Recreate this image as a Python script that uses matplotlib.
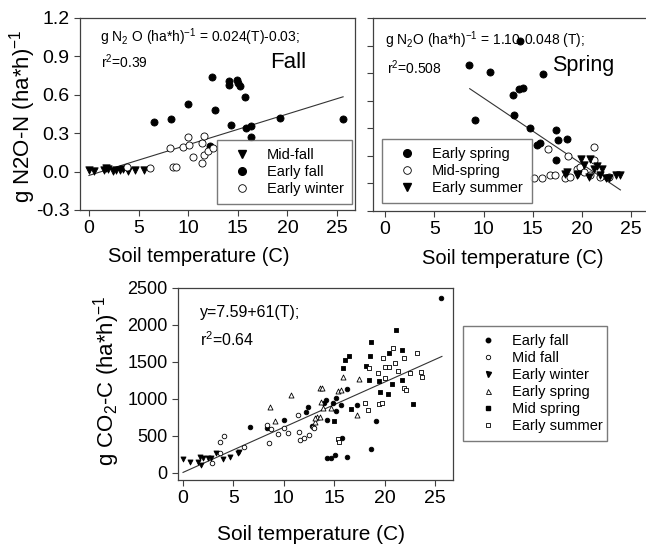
import numpy as np
import matplotlib
matplotlib.use("Agg")
import matplotlib.pyplot as plt

plt.rcParams['font.family'] = ['Liberation Sans', 'DejaVu Sans']
plt.rcParams['mathtext.default'] = 'regular'

# Fall N2O
fall_mid_T = [0.0, 0.5, 1.5, 1.7, 1.95, 2.45, 2.7, 3.1, 3.4, 3.95, 4.6, 5.55]
fall_mid_v = [0.01, 0.005, 0.015, 0.025, 0.02, 0.005, 0.01, 0.015, 0.02, 0.005, 0.01, 0.01]
fall_early_T = [6.6, 8.3, 9.95, 12.4, 12.7, 14.1, 14.1, 14.9, 15.05, 15.2, 15.7, 14.3,
                15.8, 16.3, 16.3, 12.2, 19.25, 25.6]
fall_early_v = [0.388, 0.414, 0.531, 0.74, 0.484, 0.674, 0.711, 0.716, 0.69, 0.672, 0.586, 0.365,
                0.341, 0.357, 0.273, 0.198, 0.422, 0.41]
winter_early_T = [3.8, 6.15, 8.2, 8.5, 8.75, 9.45, 9.95, 10.08, 10.45, 11.4, 11.6, 11.4, 11.6, 12.0, 12.5]
winter_early_v = [0.039, 0.029, 0.185, 0.034, 0.036, 0.195, 0.268, 0.206, 0.112, 0.221, 0.279,
                  0.068, 0.133, 0.159, 0.185]

# Spring N2O
spring_early_T = [8.54, 9.1, 10.7, 13.7, 13.0, 13.6, 14.05, 13.1, 14.7, 15.4, 15.7, 16.0,
                  17.35, 17.55, 18.5, 17.4]
spring_early_v = [0.858, 0.458, 0.81, 1.03, 0.64, 0.684, 0.689, 0.495, 0.402, 0.281, 0.291, 0.793,
                  0.39, 0.315, 0.325, 0.167]
spring_mid_T = [15.1, 15.9, 16.5, 16.8, 17.3, 18.3, 18.6, 18.8, 19.5, 19.8, 20.2, 20.8, 21.2, 21.2, 21.8, 22.7]
spring_mid_v = [0.039, 0.041, 0.252, 0.058, 0.063, 0.041, 0.199, 0.046, 0.107, 0.119, 0.082, 0.058,
                0.264, 0.167, 0.046, 0.046]
summer_early_T = [18.3, 18.5, 19.5, 19.6, 19.9, 20.2, 20.7, 20.8, 21.2, 21.5, 21.8, 22.0, 22.4, 22.7, 23.5, 23.9]
summer_early_v = [0.07, 0.082, 0.058, 0.065, 0.179, 0.131, 0.046, 0.179, 0.107, 0.126, 0.058, 0.107,
                  0.041, 0.039, 0.058, 0.063]

# CO2
co2_efall_T = [6.6, 8.3, 10.0, 12.2, 12.4, 12.8, 25.6, 16.3, 15.2, 14.2, 14.0, 14.9, 15.7, 15.2,
               17.3, 14.3, 19.2, 15.8, 18.65, 14.3, 14.65, 15.1, 16.3]
co2_efall_v = [626, 604, 721, 829, 887, 635, 2361, 1131, 1018, 986, 950, 941, 919, 838,
               919, 712, 703, 469, 328, 207, 198, 243, 220]
co2_mfall_T = [2.85, 3.7, 3.7, 4.1, 6.1, 8.3, 8.5, 8.7, 9.45, 10.0, 10.45, 11.45, 11.5, 11.6,
               12.0, 12.5, 12.9, 13.0]
co2_mfall_v = [140, 275, 423, 500, 356, 649, 410, 595, 523, 613, 545, 784, 550, 446, 477, 514, 626, 604]
co2_ewinter_T = [0.03, 0.7, 1.45, 1.8, 1.7, 2.0, 2.5, 2.8, 3.3, 4.0, 4.65, 5.5, 5.6]
co2_ewinter_v = [189, 153, 153, 108, 220, 207, 198, 198, 266, 185, 220, 266, 290]
co2_espring_T = [8.6, 9.1, 10.7, 13.1, 13.3, 13.6, 13.75, 15.9, 17.5, 15.4, 15.7, 13.65, 13.9,
                 14.65, 17.3, 13.1, 13.6]
co2_espring_v = [896, 703, 1054, 693, 761, 1144, 1153, 1302, 1266, 1108, 1126, 955, 883,
                 874, 784, 748, 761]
co2_mspring_T = [21.1, 18.7, 16.5, 16.1, 15.9, 18.55, 18.2, 20.4, 21.7, 18.45, 19.5, 20.7, 21.7,
                 19.6, 20.3, 16.7, 22.85, 15.0]
co2_mspring_v = [1932, 1775, 1585, 1532, 1423, 1581, 1450, 1626, 1658, 1257, 1243, 1198, 1257,
                 1099, 1072, 865, 928, 703]
co2_esummer_T = [20.8, 19.9, 21.0, 21.9, 23.2, 18.5, 20.0, 20.4, 21.3, 19.4, 20.0, 22.5, 23.6,
                 23.7, 21.9, 22.1, 18.05, 18.4, 19.5, 19.8, 15.4, 15.5]
co2_esummer_v = [1694, 1550, 1491, 1559, 1622, 1415, 1437, 1437, 1378, 1347, 1288, 1347, 1360,
                 1302, 1153, 1117, 941, 851, 928, 950, 459, 423]

# regression fits (intercept, slope, T range)
fall_fit = (-0.03, 0.024, [0.0, 25.6])
spring_fit = (1.10, -0.048, [8.6, 23.9])
co2_fit = (7.59, 61.0, [0.0, 25.7])

W, H = 646, 545
fig = plt.figure(figsize=(W / 100, H / 100), dpi=100)


def axes_px(left, top, right, bottom):
    return fig.add_axes([left / W, 1 - bottom / H, (right - left) / W, (bottom - top) / H])


def pts(ax, x, y, marker, filled, s):
    ax.scatter(x, y, marker=marker, s=s, facecolors='black' if filled else 'white',
               edgecolors='black', linewidths=0.6, zorder=3)


def style(ax, labelsize):
    for sp in ax.spines.values():
        sp.set_color('0.25')
        sp.set_linewidth(0.9)
    ax.tick_params(direction='out', length=4, width=0.8, colors='0.25',
                   labelsize=labelsize, labelcolor='black')


def fit_line(ax, fit):
    a, b, rng = fit
    t = np.array(rng)
    ax.plot(t, a + b * t, color='0.2', lw=0.8, zorder=2)


leg_kw = dict(frameon=True, fancybox=False, edgecolor='0.35', fontsize=10.5, handlelength=2.3,
              handletextpad=0.55, labelspacing=0.2, borderpad=0.55, borderaxespad=0)

# top-left: fall
ax1 = axes_px(80, 18, 355, 210)
pts(ax1, fall_mid_T, fall_mid_v, 'v', True, 28)
pts(ax1, fall_early_T, fall_early_v, 'o', True, 26)
pts(ax1, winter_early_T, winter_early_v, 'o', False, 26)
fit_line(ax1, fall_fit)
ax1.set_xlim(-0.9, 26.8)
ax1.set_ylim(-0.3, 1.2)
ax1.set_xticks([0, 5, 10, 15, 20, 25])
ax1.set_yticks([-0.3, 0.0, 0.3, 0.6, 0.9, 1.2])
ax1.set_yticklabels(['-0.3', '0.0', '0.3', '0.6', '0.9', '1.2'])
style(ax1, 14)
h = [plt.Line2D([], [], ls='', marker='v', color='black', ms=5.5),
     plt.Line2D([], [], ls='', marker='o', color='black', ms=5.5),
     plt.Line2D([], [], ls='', marker='o', mfc='white', mec='black', mew=0.6, ms=5.5)]
ax1.legend(h, ['Mid-fall', 'Early fall', 'Early winter'], loc='lower left',
           bbox_to_anchor=(0.498, 0.031, 0.491, 0.3), mode='expand', **leg_kw)
ax1.text(0.073, 0.90, r'g N$_2$ O (ha*h)$^{-1}$ = 0.024(T)-0.03;', transform=ax1.transAxes,
         fontsize=10, va='center')
ax1.text(0.075, 0.77, r'r$^2$=0.39', transform=ax1.transAxes, fontsize=10, va='center')
ax1.text(0.69, 0.766, 'Fall', transform=ax1.transAxes, fontsize=16, va='center')

# top-right: spring
ax2 = axes_px(373, 18, 646, 211)
pts(ax2, spring_early_T, spring_early_v, 'o', True, 26)
pts(ax2, spring_mid_T, spring_mid_v, 'o', False, 26)
pts(ax2, summer_early_T, summer_early_v, 'v', True, 28)
fit_line(ax2, spring_fit)
ax2.set_xlim(-1.22, 26.5)
ax2.set_ylim(-0.2, 1.2)
ax2.set_xticks([0, 5, 10, 15, 20, 25])
ax2.set_yticks(np.arange(-0.2, 1.21, 0.2))
ax2.set_yticklabels([])
ax2.spines['right'].set_visible(False)
style(ax2, 14)
h2 = [plt.Line2D([], [], ls='', marker='o', color='black', ms=5.5),
      plt.Line2D([], [], ls='', marker='o', mfc='white', mec='black', mew=0.6, ms=5.5),
      plt.Line2D([], [], ls='', marker='v', color='black', ms=5.5)]
ax2.legend(h2, ['Early spring', 'Mid-spring', 'Early summer'], loc='lower left',
           bbox_to_anchor=(0.033, 0.041, 0.549, 0.3), mode='expand', **leg_kw)
ax2.text(0.044, 0.886, r'g N$_2$O (ha*h)$^{-1}$ = 1.10-0.048 (T);', transform=ax2.transAxes,
         fontsize=10, va='center', zorder=1)
ax2.text(0.05, 0.741, r'r$^2$=0.508', transform=ax2.transAxes, fontsize=10, va='center')
ax2.text(0.656, 0.756, 'Spring', transform=ax2.transAxes, fontsize=15.5, va='center')

# bottom: CO2
ax3 = axes_px(178, 288, 453, 480)
pts(ax3, co2_efall_T, co2_efall_v, 'o', True, 11)
pts(ax3, co2_mfall_T, co2_mfall_v, 'o', False, 11)
pts(ax3, co2_ewinter_T, co2_ewinter_v, 'v', True, 13)
pts(ax3, co2_espring_T, co2_espring_v, '^', False, 13)
pts(ax3, co2_mspring_T, co2_mspring_v, 's', True, 11)
pts(ax3, co2_esummer_T, co2_esummer_v, 's', False, 11)
fit_line(ax3, co2_fit)
ax3.set_xlim(-0.5, 26.8)
ax3.set_ylim(-95, 2500)
ax3.set_xticks([0, 5, 10, 15, 20, 25])
ax3.set_yticks([0, 500, 1000, 1500, 2000, 2500])
style(ax3, 13)
ax3.tick_params(axis='x', labelsize=14)
h3 = [plt.Line2D([], [], ls='', marker='o', color='black', ms=3.2),
      plt.Line2D([], [], ls='', marker='o', mfc='white', mec='black', mew=0.6, ms=3.2),
      plt.Line2D([], [], ls='', marker='v', color='black', ms=3.6),
      plt.Line2D([], [], ls='', marker='^', mfc='white', mec='black', mew=0.6, ms=3.6),
      plt.Line2D([], [], ls='', marker='s', color='black', ms=3.2),
      plt.Line2D([], [], ls='', marker='s', mfc='white', mec='black', mew=0.6, ms=3.2)]
ax3.legend(h3, ['Early fall', 'Mid fall', 'Early winter', 'Early spring', 'Mid spring', 'Early summer'],
           loc='lower left', bbox_to_anchor=(1.036, 0.203, 0.524, 0.5), mode='expand', **leg_kw)
ax3.text(0.08, 0.875, 'y=7.59+61(T);', transform=ax3.transAxes, fontsize=11.5, va='center')
ax3.text(0.08, 0.73, r'r$^2$=0.64', transform=ax3.transAxes, fontsize=11.5, va='center')

# axis labels
fig.text(199 / W, 1 - 256 / H, 'Soil temperature (C)', fontsize=14.5, ha='center', va='center')
fig.text(513 / W, 1 - 258 / H, 'Soil temperature (C)', fontsize=14.5, ha='center', va='center')
fig.text(311 / W, 1 - 534 / H, 'Soil temperature (C)', fontsize=15, ha='center', va='center')
fig.text(23 / W, 1 - 116 / H, r'g N2O-N (ha*h)$^{-1}$', fontsize=16, rotation=90,
         ha='center', va='center')
fig.text(107 / W, 1 - 381 / H, r'g CO$_2$-C (ha*h)$^{-1}$', fontsize=16, rotation=90,
         ha='center', va='center')

fig.savefig('out.png', dpi=100)
